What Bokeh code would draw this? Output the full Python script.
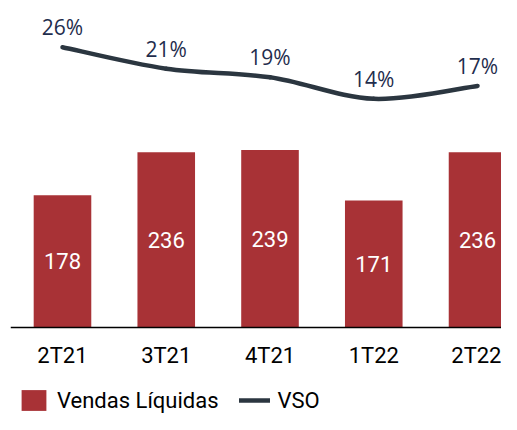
from bokeh.plotting import figure
from bokeh.models import Range1d, FixedTicker, Legend, LegendItem, ColumnDataSource
from bokeh.core.properties import value
from bokeh.embed import file_html
from bokeh.resources import INLINE

categories = ["2T21", "3T21", "4T21", "1T22", "2T22"]
vendas = [178, 236, 239, 171, 236]
vso = [26, 21, 19, 14, 17]
vso_labels = ["26%", "21%", "19%", "14%", "17%"]

BAR_COLOR = "#a83236"
LINE_COLOR = "#2b3640"
PCT_COLOR = "#1f2d4d"

xs = list(range(len(categories)))

p = figure(width=501, height=414, output_backend="svg", toolbar_location=None,
           x_range=Range1d(-0.501, 4.231), y_range=Range1d(-117.8, 440.9),
           min_border_left=10, min_border_right=0, min_border_top=0, min_border_bottom=0,
           outline_line_color=None)
p.extra_y_ranges = {"vso": Range1d(-59.42, 36.86)}

src = ColumnDataSource(dict(x=xs, top=vendas, mid=[v / 2 for v in vendas],
                            lab=[str(v) for v in vendas], vso=vso, vlab=vso_labels))

bars = p.vbar(x="x", top="top", bottom=0, width=0.555, source=src,
              fill_color=BAR_COLOR, line_color=None)
p.text(x="x", y="mid", text="lab", source=src, text_align="center",
       text_baseline="middle", text_color="white", text_font=value("Roboto"),
       text_font_size="22px")

# smooth curve (Catmull-Rom -> cubic Bezier) computed from the data points
n = len(xs)
x0, y0, x1, y1, cx0, cy0, cx1, cy1 = [], [], [], [], [], [], [], []
for i in range(n - 1):
    xa, ya = xs[i], vso[i]
    xb, yb = xs[i + 1], vso[i + 1]
    xp, yp = (xs[i - 1], vso[i - 1]) if i > 0 else (xa, ya)
    xn, yn = (xs[i + 2], vso[i + 2]) if i + 2 < n else (xb, yb)
    x0.append(xa); y0.append(ya); x1.append(xb); y1.append(yb)
    cx0.append(xa + (xb - xp) / 6); cy0.append(ya + (yb - yp) / 6)
    cx1.append(xb - (xn - xa) / 6); cy1.append(yb - (yn - ya) / 6)
curve = p.bezier(x0=x0, y0=y0, x1=x1, y1=y1, cx0=cx0, cy0=cy0, cx1=cx1, cy1=cy1,
                 line_color=LINE_COLOR, line_width=4.5, line_cap="round",
                 y_range_name="vso")

p.text(x="x", y="vso", text="vlab", source=src, y_range_name="vso",
       text_align="center", text_baseline="middle", text_color=PCT_COLOR,
       text_font=value("Open Sans"), text_font_size="21px", y_offset=-20)

p.yaxis.visible = False
p.xgrid.visible = False
p.ygrid.visible = False

ax = p.xaxis[0]
ax.ticker = FixedTicker(ticks=xs)
ax.major_label_overrides = {i: c for i, c in zip(xs, categories)}
ax.fixed_location = 0
ax.axis_line_color = "black"
ax.axis_line_width = 1.5
ax.major_tick_line_color = None
ax.minor_tick_line_color = None
ax.major_label_standoff = 10
ax.major_label_text_font = "Roboto"
ax.major_label_text_font_size = "22px"
ax.major_label_text_color = "black"

legend = Legend(items=[LegendItem(label="Vendas Líquidas", renderers=[bars]),
                       LegendItem(label="VSO", renderers=[curve])],
                orientation="horizontal", location=(8, 1),
                label_text_font="Roboto", label_text_font_size="22px",
                label_text_color="black", glyph_width=31, glyph_height=26,
                label_standoff=8, spacing=20, padding=0, margin=0,
                background_fill_alpha=0, border_line_color=None)
p.add_layout(legend, "center")

open("out.html", "w").write(file_html(p, INLINE))
